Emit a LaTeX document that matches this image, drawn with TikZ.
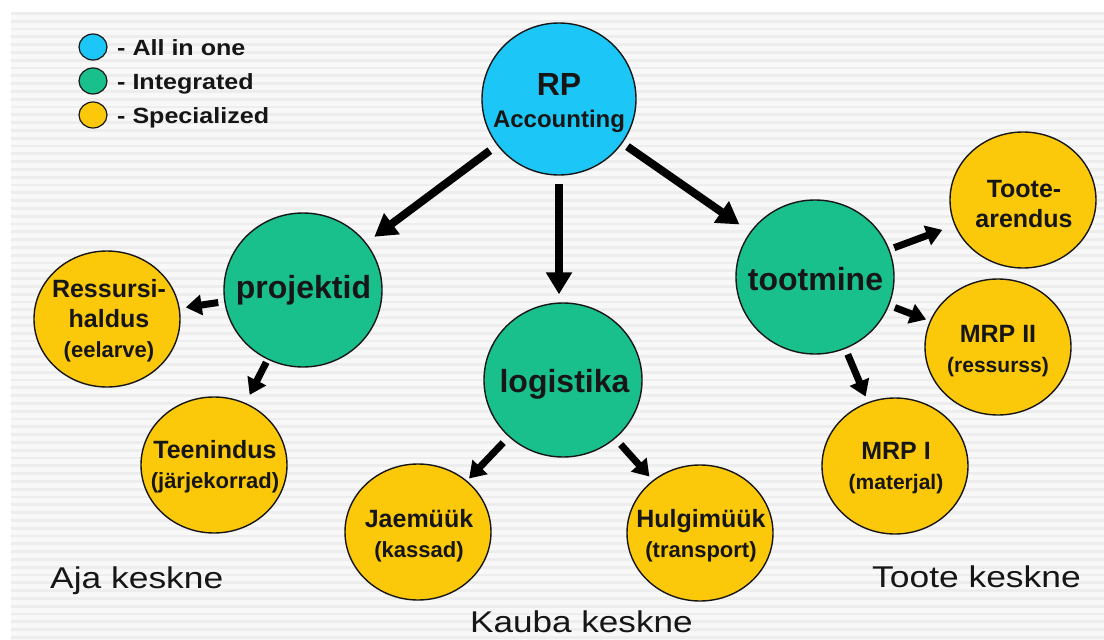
\documentclass[tikz,border=0pt]{standalone}
\usepackage{fontspec}
\setmainfont{Liberation Sans}
\usetikzlibrary{arrows.meta,shapes.geometric}
\definecolor{cblue}{HTML}{1CC6F6}
\definecolor{cgreen}{HTML}{19C08C}
\definecolor{cyellow}{HTML}{FCC80A}
\definecolor{stripeA}{HTML}{F8F8F8}
\definecolor{stripeB}{HTML}{EDEDED}
\definecolor{ink}{HTML}{161616}
\begin{document}
\begin{tikzpicture}[x=1pt,y=-1pt,
  bubble/.style={ellipse,draw=ink,line width=1.4pt,inner sep=0pt},
  allbub/.style={bubble,fill=cblue,minimum width=154pt,minimum height=152pt},
  intbub/.style={bubble,fill=cgreen,minimum width=158pt,minimum height=154pt},
  specbub/.style={bubble,fill=cyellow,minimum width=146pt,minimum height=136pt},
  legbub/.style={bubble,minimum width=28pt,minimum height=26pt,line width=1.2pt},
  bigtxt/.style={text=ink,inner sep=0pt,font=\bfseries\fontsize{32}{34}\selectfont},
  spectxt/.style={text=ink,inner sep=0pt,align=center,font=\bfseries\fontsize{25}{30}\selectfont},
  legtxt/.style={text=ink,inner sep=0pt,anchor=base west,font=\bfseries\fontsize{22}{24}\selectfont},
  areatxt/.style={text=ink,inner sep=0pt,anchor=base west,font=\fontsize{30}{32}\selectfont},
  bigarr/.style={draw=black,line width=8pt,-{Triangle[width=25pt,length=22pt]}},
  smallarr/.style={draw=black,line width=7pt,-{Triangle[width=20pt,length=16pt]}}
]
\useasboundingbox (0,0) rectangle (1104,640);
\fill[white] (0,0) rectangle (1104,640);
\fill[stripeA] (11,12) rectangle (1104,640);
\foreach \i in {0,...,81} {
  \fill[stripeB] (11,{12+\i*7.8}) rectangle (1104,{14.8+\i*7.8});
}

% legend
\node[legbub,fill=cblue] (l1) at (93,47) {};
\node[legbub,fill=cgreen] (l2) at (93,81) {};
\node[legbub,fill=cyellow] (l3) at (93,115) {};
\node[legtxt] (l1t) at (117,55) {\scalebox{1.14}[1]{- All in one}};
\node[legtxt] (l2t) at (117,89) {\scalebox{1.14}[1]{- Integrated}};
\node[legtxt] (l3t) at (117,123) {\scalebox{1.14}[1]{- Specialized}};

% bubbles
\node[allbub] (rp) at (559,99) {};
\node[intbub] (proj) at (303,290) {};
\node[intbub] (log) at (563,380) {};
\node[intbub] (toot) at (815,277) {};
\node[specbub] (res) at (107,319) {};
\node[specbub] (teen) at (214,465) {};
\node[specbub] (jae) at (418,532) {};
\node[specbub] (hul) at (700,533) {};
\node[specbub] (tarend) at (1023,200) {};
\node[specbub] (mrp2) at (998,347) {};
\node[specbub] (mrp1) at (895,466) {};

% bubble texts
\node[text=ink,inner sep=0pt,align=center,font=\bfseries\fontsize{24}{32}\selectfont] (rpt) at (559,103)
  {{\fontsize{32}{32}\selectfont RP}\\Accounting};
\node[bigtxt,anchor=base] (projt) at (303.5,298) {projektid};
\node[bigtxt,anchor=base] (logt) at (564.5,392) {logistika};
\node[bigtxt,anchor=base] (toott) at (815.5,290) {tootmine};
\node[spectxt] (rest) at (109,321) {Ressursi-\\haldus\\{\fontsize{22}{30}\selectfont (eelarve)}};
\node[spectxt] (teent) at (215,467) {Teenindus\\{\fontsize{22}{30}\selectfont (järjekorrad)}};
\node[spectxt] (jaet) at (419,536) {Jaemüük\\{\fontsize{22}{30}\selectfont (kassad)}};
\node[spectxt] (hult) at (701,536) {Hulgimüük\\{\fontsize{22}{30}\selectfont (transport)}};
\node[spectxt] (tarendt) at (1024,204) {Toote-\\arendus};
\node[spectxt] (mrp2t) at (998,351) {MRP II\\{\fontsize{21}{30}\selectfont (ressurss)}};
\node[spectxt] (mrp1t) at (896,468) {MRP I\\{\fontsize{21}{30}\selectfont (materjal)}};

% area labels
\node[areatxt] (aja) at (50,588) {\scalebox{1.18}[1]{Aja keskne}};
\node[areatxt] (toote) at (872,587) {\scalebox{1.18}[1]{Toote keskne}};
\node[areatxt] (kauba) at (470,632) {\scalebox{1.17}[1]{Kauba keskne}};

% arrows
\draw[bigarr,shorten <=9pt,shorten >=10pt] (rp) -- (proj);
\draw[bigarr,shorten <=8pt,shorten >=8pt] (rp.south) -- (rp.south |- log.north);
\draw[bigarr,shorten <=6pt,shorten >=13pt] (rp) -- (toot);
\draw[smallarr,shorten <=6pt,shorten >=6pt] (proj) -- (res);
\draw[smallarr,shorten <=3pt,shorten >=9pt] (proj) -- (teen);
\draw[smallarr,shorten <=8pt,shorten >=3pt] (log) -- (jae);
\draw[smallarr,shorten <=8pt,shorten >=5pt] (log) -- (hul);
\draw[smallarr,shorten <=5pt,shorten >=13pt] (toot) -- (tarend);
\draw[smallarr,shorten <=6pt,shorten >=4pt] (toot) -- (mrp2);
\draw[smallarr,shorten <=6pt,shorten >=6pt] (toot) -- (mrp1);
\end{tikzpicture}
\end{document}
